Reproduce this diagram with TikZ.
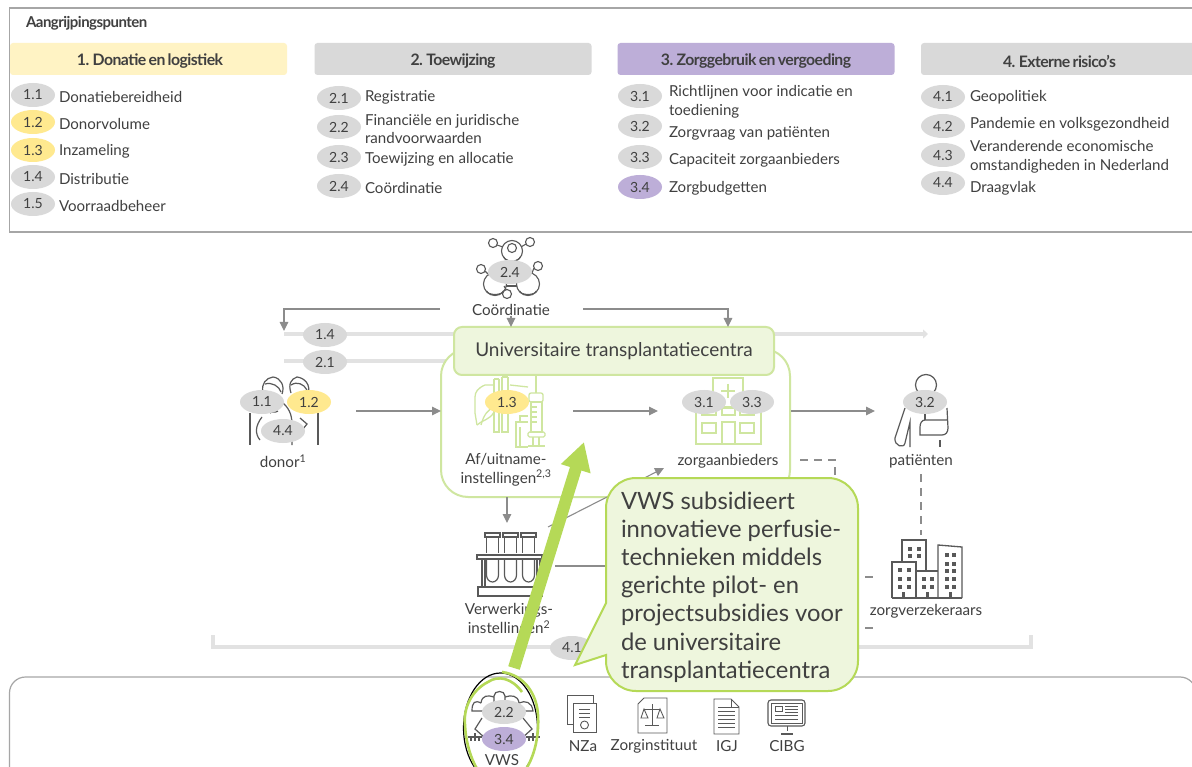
\documentclass[tikz,border=0pt]{standalone}
\usepackage{fontspec}
\setmainfont{Lato}
\newfontfamily\hdfont[LetterSpace=-3.5,WordSpace=0.7]{Lato}
\usetikzlibrary{arrows.meta,shapes.geometric}
\definecolor{txt}{HTML}{404040}
\definecolor{pillgray}{HTML}{D9D9D9}
\definecolor{pillyel}{HTML}{FFE98F}
\definecolor{pillpur}{HTML}{BDAED8}
\definecolor{hdyel}{HTML}{FFF3C4}
\definecolor{frame}{HTML}{A6A6A6}
\definecolor{arr}{HTML}{8C8C8C}
\definecolor{lgreen}{HTML}{CFE6A0}
\definecolor{bgreen}{HTML}{B5D957}
\definecolor{boxgreen}{HTML}{EEF6DD}
\definecolor{icon}{HTML}{595959}
\definecolor{band}{HTML}{E2E2E2}
\tikzset{
  x=1pt,y=-1pt,
  every node/.style={text=txt,inner sep=0pt,outer sep=0pt,font=\fontsize{15.1}{18.6}\selectfont},
  pill/.style={ellipse,minimum width=44pt,minimum height=24pt,fill=pillgray,font=\fontsize{14}{16}\selectfont},
  pillY/.style={pill,fill=pillyel},
  pillP/.style={pill,fill=pillpur},
  hd/.style={rounded corners=3pt,minimum width=277pt,minimum height=32pt,fill=pillgray,font=\hdfont\bfseries\fontsize{15.8}{18}\selectfont},
  item/.style={anchor=west,align=left,yshift=-0.6pt},
  lab/.style={align=center,font=\fontsize{15.2}{19}\selectfont},
  conn/.style={draw=arr,line width=1.1pt,-{Triangle[length=9pt,width=8.5pt]}},
  connplain/.style={draw=arr,line width=1.1pt},
  dashln/.style={draw=arr,line width=1.1pt,dash pattern=on 8pt off 6pt},
  thickln/.style={draw=band,line width=4.5pt},
  ic/.style={draw=icon,line width=1pt,fill=none},
  icg/.style={draw=lgreen,line width=1.3pt,fill=none},
}
\begin{document}
\begin{tikzpicture}
\clip (0,0) rectangle (1192,767);
\fill[white] (0,0) rectangle (1192,767);
% top frame
\draw[frame,line width=1.2pt] (1200,8) -- (9.5,8) -- (9.5,232) -- (1200,232);
\node[anchor=west,font=\hdfont\bfseries\fontsize{15}{16}\selectfont] (title) at (26,23.5) {Aangrijpingspunten};
\node[hd,fill=hdyel] (h1) at (148.5,59) {};
\node[hd] (h2) at (453,59) {};
\node[hd,fill=pillpur] (h3) at (756,59) {};
\node[hd] (h4) at (1059.5,59) {};
\node[font=\hdfont\bfseries\fontsize{15.8}{18}\selectfont] (ht1) at (150,61) {1. Donatie en logistiek};
\node[font=\hdfont\bfseries\fontsize{15.8}{18}\selectfont] (ht2) at (453,61) {2. Toewijzing};
\node[font=\hdfont\bfseries\fontsize{15.8}{18}\selectfont] (ht3) at (756,61) {3. Zorggebruik en vergoeding};
\node[font=\hdfont\bfseries\fontsize{15.8}{18}\selectfont] (ht4) at (1059.5,61) {4. Externe risico’s};
% col 1
\node[pill] (p11) at (33,95) {1.1};
\node[pillY] (p12) at (33,122) {1.2};
\node[pillY] (p13) at (33,150) {1.3};
\node[pill] (p14) at (33,177) {1.4};
\node[pill] (p15) at (33,204) {1.5};
\node[item] (t11) at (59,96.5) {Donatiebereidheid};
\node[item] (t12) at (59,123.5) {Donorvolume};
\node[item] (t13) at (59,150.5) {Inzameling};
\node[item] (t14) at (59,178.5) {Distributie};
\node[item] (t15) at (59,205.5) {Voorraadbeheer};
% col 2
\node[pill] (p21) at (339,98) {2.1};
\node[pill] (p22) at (339,127) {2.2};
\node[pill] (p23) at (339,157) {2.3};
\node[pill] (p24) at (339,186) {2.4};
\node[item] (t21) at (365,96.5) {Registratie};
\node[item] (t22) at (365,128.5) {Financiële en juridische\\randvoorwaarden};
\node[item] (t23) at (365,159) {Toewijzing en allocatie};
\node[item] (t24) at (365,187.5) {Coördinatie};
% col 3
\node[pill] (p31) at (640,96) {3.1};
\node[pill] (p32) at (640,126) {3.2};
\node[pill] (p33) at (640,157) {3.3};
\node[pillP] (p34) at (640,187) {3.4};
\node[item] (t31) at (669,101.5) {Richtlijnen voor indicatie en\\toediening};
\node[item] (t32) at (669,132.5) {Zorgvraag van patiënten};
\node[item] (t33) at (669,159.5) {Capaciteit zorgaanbieders};
\node[item] (t34) at (669,187.5) {Zorgbudgetten};
% col 4
\node[pill] (p41) at (943,97) {4.1};
\node[pill] (p42) at (943,126) {4.2};
\node[pill] (p43) at (943,155) {4.3};
\node[pill] (p44) at (943,183) {4.4};
\node[item] (t41) at (970,96.5) {Geopolitiek};
\node[item] (t42) at (970,123.5) {Pandemie en volksgezondheid};
\node[item] (t43) at (970,156.5) {Veranderende economische\\omstandigheden in Nederland};
\node[item] (t44) at (970,187.5) {Draagvlak};
% bottom frame
\draw[frame,line width=1.2pt,rounded corners=16pt] (1196,800) -- (1196,677) -- (9.5,677) -- (9.5,800);
% thick lines
\coordinate (l14a) at (284,334); \coordinate (l14b) at (928,334);
\coordinate (l21a) at (284,361); \coordinate (l21b) at (460,361);
\draw[thickln,-{Triangle[length=5pt,width=9pt]}] (l14a) -- (l14b);
\draw[thickln] (l21a) -- (l21b);
\coordinate (br1) at (213,635); \coordinate (br2) at (213,647); \coordinate (br3) at (1031,647); \coordinate (br4) at (1031,635);
\draw[thickln,line width=3.5pt] (br1) -- (br2) -- (br3) -- (br4);
\node[pill] (e14) at (325,335) {1.4};
\node[pill] (e21) at (325,362) {2.1};
% centre outline
\node[draw=lgreen,line width=2pt,rounded corners=27pt,minimum width=349pt,minimum height=148pt,fill=white] (ctr) at (615.5,423) {};
\node[draw=lgreen,line width=2pt,rounded corners=8pt,fill=boxgreen,minimum width=320pt,minimum height=48pt,font=\fontsize{19}{22}\selectfont] (utc) at (614,351) {Universitaire transplantatiecentra};
% labels
\node[lab] (coo) at (511,310) {Coördinatie};
\node[lab] (don) at (283,461) {donor\textsuperscript{1}};
\node[lab] (af) at (506,469.5) {Af/uitname-\\instellingen\textsuperscript{2,3}};
\node[lab] (zor) at (728,461.5) {zorgaanbieders};
\node[lab] (pat) at (921,461.5) {patiënten};
\node[lab] (ver) at (509,620) {Verwerkings-\\instellingen\textsuperscript{2}};
\node[lab] (zve) at (926,611.5) {zorgverzekeraars};
\node[lab] (nza) at (583,746) {NZa};
\node[lab] (zin) at (654,746) {Zorginstituut};
\node[lab] (igj) at (727,746) {IGJ};
\node[lab] (cib) at (787,746) {CIBG};
\node[lab] (vws) at (502,760) {VWS};
% connectors
\coordinate (c1) at (440,309); \coordinate (c2) at (284,309); \coordinate (c3) at (284,331);
\coordinate (c4) at (583,309); \coordinate (c5) at (728,309); \coordinate (c6) at (728,327);
\draw[conn] (c1) -- (c2) -- (c3);
\draw[conn] (c4) -- (c5) -- (c6);
\draw[conn] (coo.south) -- (coo.south |- utc.north);
\coordinate (a1) at (356,411); \coordinate (a2) at (441,411);
\draw[conn] (a1) -- (a2);
\coordinate (a3) at (573,411); \coordinate (a4) at (658,411);
\draw[conn] (a3) -- (a4);
\coordinate (a5) at (791,411); \coordinate (a6) at (875,411);
\draw[conn] (a5) -- (a6);
\coordinate (a7) at (507,497); \coordinate (a8) at (507,523);
\draw[conn] (a7) -- (a8);
\coordinate (a9) at (548,527); \coordinate (a10) at (664,468);
\draw[conn] (a9) -- (a10);
\coordinate (a11) at (555,566); \coordinate (a12) at (620,566);
\draw[connplain] (a11) -- (a12);
\coordinate (d1) at (800,460); \coordinate (d2) at (835,460); \coordinate (d3) at (835,490);
\draw[dashln] (d1) -- (d2) -- (d3);
\coordinate (d4) at (921,474); \coordinate (d5) at (921,535);
\draw[dashln] (d4) -- (d5);
\coordinate (d6) at (865,577); \coordinate (d7) at (873,577);
\draw[connplain] (d6) -- (d7);
\coordinate (d8) at (865,628); \coordinate (d9) at (873,628);
\draw[connplain] (d8) -- (d9);
% coordination icon
\begin{scope}[ic,line width=1.1pt]
\draw (512,251) circle (10.5); \draw (512,248) circle (4.5); \draw (504,257) arc (180:360:8 and -4);
\foreach \a/\b in {493/243,530/242,481/269,538/266,507/294} \draw (\a,\b) circle (4.5);
\draw (497,245) -- (503,247); \draw (526,244) -- (521,247);
\draw (485,271) -- (488,274); \draw (534,268) -- (532,273);
\draw (506,289.5) -- (504,286);
\draw (495,284) circle (11.5); \draw (528,284) circle (11.5);
\draw (487,291) arc (180:360:8 and -3.5); \draw (520,291) arc (180:360:8 and -3.5);
\draw (506,286) -- (517,286);
\end{scope}
\node[pill] (e24) at (510,272) {2.4};
% donor icon
\begin{scope}[ic,line width=1.2pt]
\draw (263,392) .. controls (261,384) and (266,378) .. (273,377) .. controls (281,378) and (285,386) .. (282,394);
\draw (265,384) .. controls (272,382) and (279,386) .. (281,392);
\draw (291,393) .. controls (288,384) and (291,379) .. (297,377) .. controls (305,378) and (311,385) .. (308,394);
\draw (291,385) .. controls (297,381) and (304,384) .. (307,390);
\draw (250,413) -- (250,445); \draw (318,413) -- (318,445);
\draw (283,403) .. controls (291,410) and (292,418) .. (292,425) -- (292,445);
\draw (262,417) .. controls (255,426) and (255,434) .. (260,440);
\draw (300,418) -- (307,424) -- (303,429);
\draw (270,413) .. controls (272,411) and (276,413) .. (278,411);
\end{scope}
\node[pill] (e11) at (262,402) {1.1};
\node[pillY] (e12) at (309,402) {1.2};
\node[pill] (e44) at (283,431) {4.4};
% liver + syringe
\begin{scope}[icg]
\draw (528,387) -- (510,385);
\draw (494,385) -- (485,385) .. controls (478,388) and (475,392) .. (475,397) -- (475,413) -- (477,425);
\draw (477,425) .. controls (482,420) and (490,420) .. (494,412);
\draw (494,379) -- (499,379) (502,377) -- (508,377);
\draw (494,379) -- (494,432) -- (499,432) -- (499,379);
\draw (502,377) -- (502,432) -- (508,432) -- (508,377);
\draw (481,425) .. controls (484,414) and (488,410) .. (494,407);
\draw (536,376) -- (536,393);
\draw[rounded corners=2pt] (529,393) rectangle (543,402);
\draw (531,402) rectangle (542,432);
\draw (531,407) -- (537,407) (531,412) -- (537,412) (531,417) -- (537,417) (531,422) -- (537,422);
\draw[rounded corners=1.5pt] (528,432) rectangle (545,437);
\draw (533,437) -- (533,445) (539,437) -- (539,445);
\draw (528,446) -- (545,446);
\draw (528,416) -- (520,416) -- (520,422);
\draw (528,422) -- (516,422) -- (516,447) -- (528,447);
\draw (520,427) -- (520,447);
\end{scope}
\node[pillY] (e13) at (507,402) {1.3};
% hospital
\begin{scope}[icg]
\draw (713,407) -- (713,378) -- (743,378) -- (743,407);
\draw (728,384) -- (728,398) (721,391) -- (735,391);
\draw (696,407) rectangle (761,444);
\draw (702,408) rectangle (716,415); \draw (722,408) rectangle (735,415); \draw (740,408) rectangle (754,415);
\draw (702,423) rectangle (716,433); \draw (740,423) rectangle (754,433);
\draw (722,444) -- (722,422) -- (735,422) -- (735,444);
\end{scope}
\node[pill] (e31) at (704,402) {3.1};
\node[pill] (e33) at (752,402) {3.3};
% patient
\begin{scope}[ic,line width=1.2pt]
\draw (926,385) circle (10.5);
\draw (905,408) -- (895,438) .. controls (894,446) and (904,449) .. (905,443) -- (910,422) -- (910,447);
\draw (947,408) -- (948,428) .. controls (948,432) and (946,435) .. (942,435) -- (920,435) -- (920,427) .. controls (920,423) and (922,420) .. (925,420) -- (947,420);
\draw (925,413) -- (925,420);
\draw (940,440) -- (940,447);
\end{scope}
\node[pill] (e32) at (925,402) {3.2};
% test tubes
\begin{scope}[ic,line width=1.2pt]
\foreach \x in {485,503,521} {
  \draw (\x,533) rectangle (\x+15,537);
  \draw (\x+1.5,537) -- (\x+1.5,553);
  \draw (\x+13.5,537) -- (\x+13.5,553);
  \draw (\x+1.5,559) -- (\x+1.5,575) arc (180:360:6 and -7) -- (\x+13.5,559);
}
\draw (477,555) rectangle (542,559);
\draw (482,559) -- (482,587) (485,559) -- (485,587) (537,559) -- (537,587) (540,559) -- (540,587);
\draw (478,587) rectangle (542,596);
\end{scope}
% buildings
\begin{scope}[ic,line width=1.3pt]
\draw (902,562) -- (902,540) -- (926,540) -- (926,571);
\draw (892,598) -- (892,562) -- (916,562) -- (916,598);
\draw (916,571) -- (938,571);
\draw (938,598) -- (938,545) -- (962,547) -- (962,598);
\draw (892,598) -- (962,598);
\foreach \x in {898,907} \foreach \y in {568,577,585} \fill[icon] (\x,\y) rectangle (\x+4,\y+4);
\foreach \x in {908,917} \foreach \y in {547,554} \fill[icon] (\x,\y) rectangle (\x+4,\y+4);
\foreach \x in {922,930} \foreach \y in {577,585} \fill[icon] (\x,\y) rectangle (\x+4,\y+4);
\foreach \x in {945,952} \foreach \y in {553,562,569,577,585} \fill[icon] (\x,\y) rectangle (\x+4,\y+4);
\foreach \x in {902,926,949} \fill[icon] (\x,592) rectangle (\x+3,598);
\end{scope}
\node[pill] (e41) at (572,648) {4.1};
% VWS icon
\begin{scope}[ic,line width=1.2pt]
\draw (494,705) -- (494,696) .. controls (494,690) and (505,690) .. (505,696) -- (505,705);
\draw (494,697) .. controls (488,695) and (482,695) .. (481,703);
\draw (505,697) .. controls (511,695) and (518,695) .. (519,703);
\draw (481,703) .. controls (475,700) and (472,702) .. (472,711) -- (485,711);
\draw (519,703) .. controls (525,700) and (532,702) .. (533,711) -- (520,711);
\draw (482,718) -- (475,729) -- (485,738);
\draw (523,718) -- (532,729) -- (522,738);
\draw (468,737) -- (482,737) (475,733) -- (475,741) (471,737) -- (471,741) (479,737) -- (479,741);
\draw (526,737) -- (540,737) (533,733) -- (533,741) (529,737) -- (529,741) (537,737) -- (537,741);
\end{scope}
\node[pill] (e22) at (504,712) {2.2};
\node[pillP] (e34) at (504,739) {3.4};
\draw[black,line width=1.2pt] (500.5,728) ellipse (37 and 55);
% NZa icon
\begin{scope}[ic,line width=0.9pt]
\draw (573,724) -- (567,724) -- (567,695) -- (593,695) -- (593,703);
\draw[fill=white] (573,703) rectangle (596,732);
\draw (579,709) -- (590,709) (579,713) -- (590,713) (579,717) -- (590,717);
\draw (584.5,725) circle (4);
% Zorginstituut icon
\draw (638,733) -- (638,704) -- (644,698) -- (667,698) -- (667,733) -- cycle;
\draw (652,704) -- (652,725) (645,725) -- (659,725) (644,709) -- (660,709);
\draw (644,709) -- (641,718) -- (648,718) -- cycle; \draw (660,709) -- (657,718) -- (664,718) -- cycle;
% IGJ icon
\draw (714,734) -- (714,699) -- (731,699) -- (739,707) -- (739,734) -- cycle;
\draw (731,699) -- (731,707) -- (739,707);
\foreach \y in {707,711,715,719,723,727} \draw (718,\y) -- (735,\y);
% CIBG icon
\draw[rounded corners=3pt,line width=1.1pt] (768,700) rectangle (805,726);
\draw (771,703) rectangle (802,723);
\draw (775,706) rectangle (782,711);
\draw (785,706) -- (798,706) (785,709) -- (798,709) (785,712) -- (798,712);
\draw (775,715) -- (798,715) (775,719) -- (798,719);
\draw (787,726) -- (787,731) (783,733) -- (791,733);
\draw[line width=1.6pt] (781,734) -- (793,734);
\end{scope}
% green arrow + VWS ring
\coordinate (ga) at (514,668); \coordinate (gb) at (584,442);
\draw[bgreen,line width=12pt,-{Triangle[length=28pt,width=29pt]}] (ga) -- (gb);
\draw[bgreen,line width=2.6pt] (522,692) .. controls (512,678) and (498,675) .. (488,682) .. controls (472,690) and (463,708) .. (465,725) .. controls (466,750) and (478,785) .. (500,785) .. controls (528,785) and (540,745) .. (538,715) .. controls (537,695) and (525,675) .. (502,672);
% callout
\node[anchor=north west,minimum width=252pt,minimum height=213pt] (callout) at (606,478) {};
\draw[draw=bgreen,line width=2pt,fill=boxgreen,rounded corners=30pt]
  (606,575) [sharp corners] -- (606,603) -- (575,665) -- (606,655) [rounded corners=30pt] -- (606,691) -- (858,691) -- (858,478) -- (606,478) -- (606,575);
\node[anchor=north west,align=left,font=\fontsize{23.8}{28.2}\selectfont] (ctext) at (621,491.5)
 {VWS subsidieert\\innovatieve perfusie-\\technieken middels\\gerichte pilot- en\\projectsubsidies voor\\de universitaire\\transplantatiecentra};
\end{tikzpicture}
\end{document}
